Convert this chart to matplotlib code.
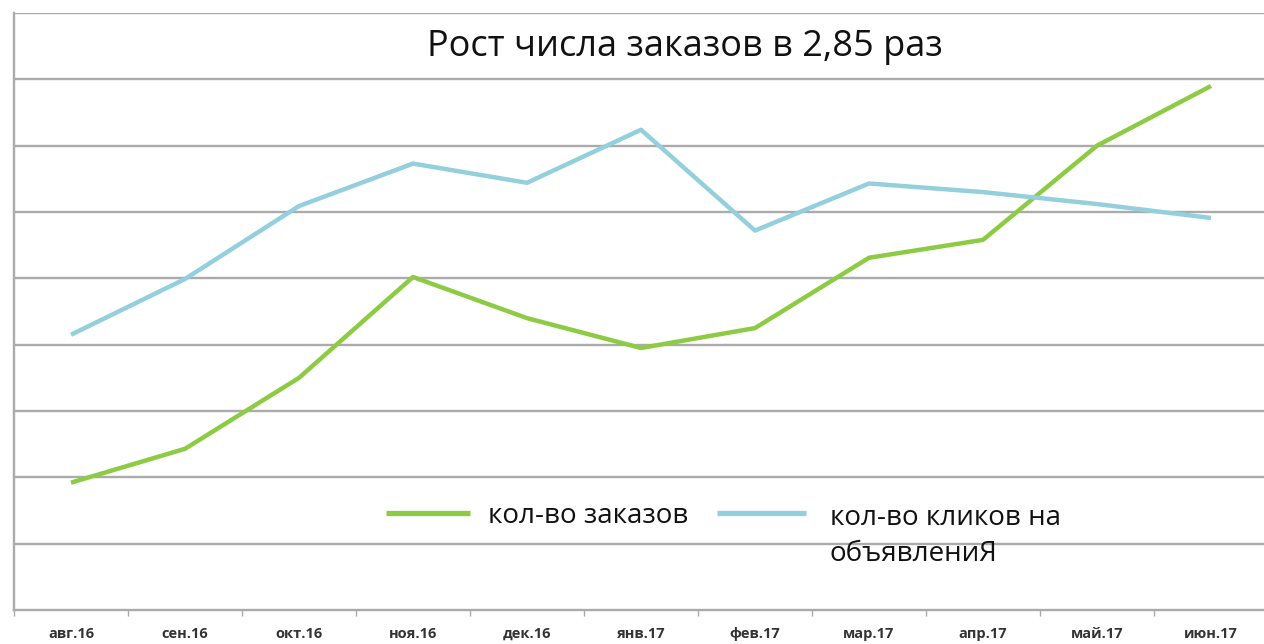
import matplotlib
matplotlib.use("Agg")
import matplotlib.pyplot as plt
import numpy as np

plt.rcParams['font.family'] = ['Open Sans', 'DejaVu Sans']

months = ['авг.16', 'сен.16', 'окт.16', 'ноя.16', 'дек.16', 'янв.17',
          'фев.17', 'мар.17', 'апр.17', 'май.17', 'июн.17']
orders = [1.92, 2.43, 3.50, 5.02, 4.40, 3.95, 4.25, 5.31, 5.58, 7.00, 7.90]
clicks = [4.15, 4.99, 6.09, 6.73, 6.44, 7.24, 5.72, 6.43, 6.30, 6.12, 5.91]

title = 'Рост числа заказов в 2,85 раз'
label_orders = 'кол-во заказов'
label_clicks = ['кол-во кликов на', 'объявлениЯ']

green = '#8ccb43'
blue = '#93cfdd'
grid_c = '#ababab'

fig = plt.figure(figsize=(12.64, 6.44), dpi=100)
ax = fig.add_axes([14 / 1264, 1 - 610 / 644, 1254 / 1264, 597 / 644])

x = np.arange(len(months))
ax.plot(x, orders, color=green, lw=3.2, solid_capstyle='butt', zorder=3)
ax.plot(x, clicks, color=blue, lw=3.2, solid_capstyle='butt', zorder=3)

ax.set_xlim(-0.5, len(months) - 0.5)
ax.set_ylim(0, 9)
ax.set_yticks(np.arange(1, 10))
ax.yaxis.grid(True, color=grid_c, lw=1.7)
ax.tick_params(axis='y', left=False, labelleft=False)
ax.set_axisbelow(True)

ax.set_xticks(x)
ax.set_xticklabels(months, fontsize=10.5, fontweight='bold', color='#333333')
ax.tick_params(axis='x', which='major', length=0, pad=12)
ax.set_xticks(np.arange(-0.5, len(months), 1.0), minor=True)
ax.tick_params(axis='x', which='minor', length=4, width=1, color=grid_c)

for s in ['top', 'right']:
    ax.spines[s].set_visible(False)
for s in ['left', 'bottom']:
    ax.spines[s].set_color(grid_c)
    ax.spines[s].set_linewidth(1.7)

ax.text(0.535, 0.943, title, transform=ax.transAxes, ha='center', va='center',
        fontsize=26, color='#111111')

# legend drawn by hand: keys and labels in axes coordinates
ax.plot([0.2967, 0.3636], [0.1625, 0.1625], transform=ax.transAxes,
        color=green, lw=3.8, solid_capstyle='butt', clip_on=False)
ax.plot([0.5606, 0.6316], [0.1625, 0.1625], transform=ax.transAxes,
        color=blue, lw=3.8, solid_capstyle='butt', clip_on=False)
ax.text(0.378, 0.1457, label_orders, transform=ax.transAxes,
        ha='left', va='baseline', fontsize=20, color='#111111')
ax.text(0.6507, 0.1424, label_clicks[0], transform=ax.transAxes,
        ha='left', va='baseline', fontsize=20, color='#111111')
ax.text(0.6507, 0.0821, label_clicks[1], transform=ax.transAxes,
        ha='left', va='baseline', fontsize=20, color='#111111')

fig.savefig('out.png', dpi=100)
